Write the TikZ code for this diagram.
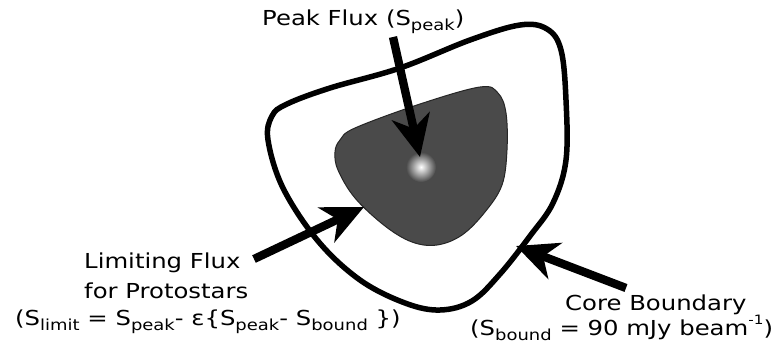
\documentclass[tikz,border=0pt]{standalone}
\usepackage{fontspec}
\setmainfont{DejaVu Sans}[FakeStretch=1.18]
\usepackage{tikz}
\usetikzlibrary{arrows.meta}
\newcommand{\lowtext}[1]{\raisebox{-0.45ex}{\fontsize{13}{13}\selectfont #1}}
\newcommand{\hightext}[1]{\raisebox{0.9ex}{\fontsize{11}{11}\selectfont #1}}
\definecolor{coregray}{RGB}{74,74,74}

\begin{document}
\begin{tikzpicture}[
    x=0.03cm, y=-0.03cm,
    bound/.style={draw=black, line width=0.165cm},
    blob/.style={draw=black!85, line width=0.03cm, fill=coregray},
    fl/.style={line width=0.25cm, -{Stealth[length=1.25cm, width=1.15cm, inset=0.38cm]}},
    lbl/.style={anchor=base west, inner sep=0pt, font=\fontsize{17.6}{20}\selectfont}
  ]
    \useasboundingbox[fill=white] (0,0) rectangle (772,354);

    % --- core boundary ---
    \draw[bound] plot[smooth cycle, tension=0.6] coordinates {
      (272,116) (268,140) (283,188) (318,241) (360,280) (405,303) (440,310)
      (472,301) (500,274) (530,236) (553,203) (566,160) (566,100) (561,50)
      (547,29) (520,25) (470,40) (400,68) (330,88) (287,104)};

    % --- limiting flux region ---
    \draw[blob] plot[smooth cycle, tension=0.6] coordinates {
      (340,140) (355,128) (420,104) (480,87) (498,93) (506,113) (507,150)
      (502,185) (485,212) (462,235) (437,245) (412,242) (385,226) (355,198)
      (338,170) (335,152)};

    % --- peak ---
    \coordinate (spot) at (421,167);
    \shade[inner color=white, outer color=coregray] (spot) circle (15);

    % --- labels ---
    \node[lbl] (peak) at (262,25) {Peak Flux (S\lowtext{peak})};
    \node[lbl] (lim1) at (84,268) {Limiting Flux};
    \node[lbl] (lim2) at (84,298) {for Protostars};
    \node[lbl] (lim3) at (15,325) {(S\lowtext{limit} = S\lowtext{peak}- ε\{S\lowtext{peak}- S\lowtext{bound} \})};
    \node[lbl] (core1) at (565,310) {Core Boundary};
    \node[lbl] (core2) at (470,335) {(S\lowtext{bound} = 90 mJy beam\hightext{-1})};

    % --- arrows ---
    \coordinate (peaktail) at (393,37);
    \coordinate (peaktip)  at (420,157);
    \coordinate (limtail)  at (254,259);
    \coordinate (limtip)   at (364,207);
    \coordinate (coretail) at (626,288);
    \coordinate (coretip)  at (516,246);

    \draw[fl] (peaktail) -- (peaktip);
    \draw[fl] (limtail)  -- (limtip);
    \draw[fl] (coretail) -- (coretip);
  \end{tikzpicture}
\end{document}
